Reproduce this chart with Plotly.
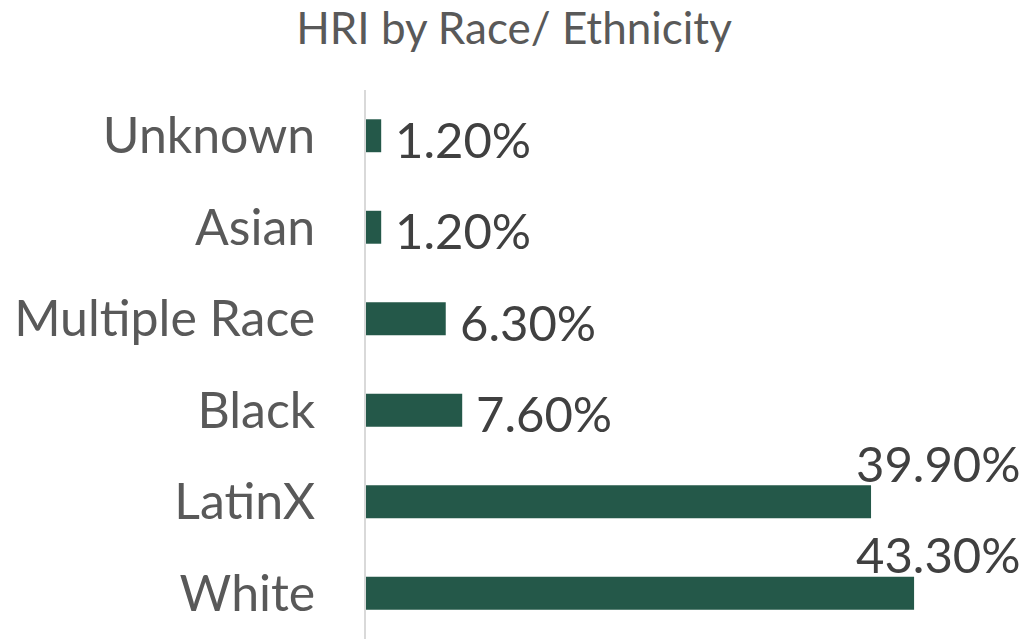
import plotly.graph_objects as go

categories = ["Unknown", "Asian", "Multiple Race", "Black", "LatinX", "White"]
values = [1.2, 1.2, 6.3, 7.6, 39.9, 43.3]
labels = ["1.20%", "1.20%", "6.30%", "7.60%", "39.90%", "43.30%"]

BAR = "#245849"
FONT = "Lato"

fig = go.Figure(go.Bar(
    x=values, y=categories, orientation="h",
    marker=dict(color=BAR, line=dict(width=0)),
    hoverinfo="skip",
))

annotations = []
for c, v, t in zip(categories, values, labels):
    if v > 30:
        annotations.append(dict(x=1, y=c, xref="paper", yref="y", text=t, showarrow=False,
                                xanchor="right", yanchor="bottom", xshift=-5, yshift=8,
                                font=dict(family=FONT, size=49, color="#404040")))
    else:
        annotations.append(dict(x=v, y=c, xref="x", yref="y", text=t, showarrow=False,
                                xanchor="left", yanchor="middle", xshift=12, yshift=-3,
                                font=dict(family=FONT, size=49, color="#404040")))

fig.update_layout(
    width=1028, height=639,
    margin=dict(l=366, r=0, t=90, b=0),
    paper_bgcolor="white", plot_bgcolor="white",
    bargap=0.64,
    showlegend=False,
    title=dict(text="HRI by Race/ Ethnicity", x=0.5, xanchor="center", y=0.955, yanchor="middle",
               font=dict(family=FONT, size=44, color="#595959")),
    xaxis=dict(range=[0, 52.3], visible=False, fixedrange=True, automargin=False),
    yaxis=dict(categoryorder="array", categoryarray=categories[::-1], autorange=False,
               range=[-0.5, 5.5], automargin=False,
               showline=True, linecolor="#d9d9d9", linewidth=1.5, ticks="",
               showgrid=False, zeroline=False, ticklabelstandoff=39,
               tickfont=dict(family=FONT, size=50, color="#595959")),
    annotations=annotations,
)

fig.write_html("out.html", config={"displayModeBar": False},
               post_script="document.body.style.margin='0';document.body.style.overflow='hidden';")
